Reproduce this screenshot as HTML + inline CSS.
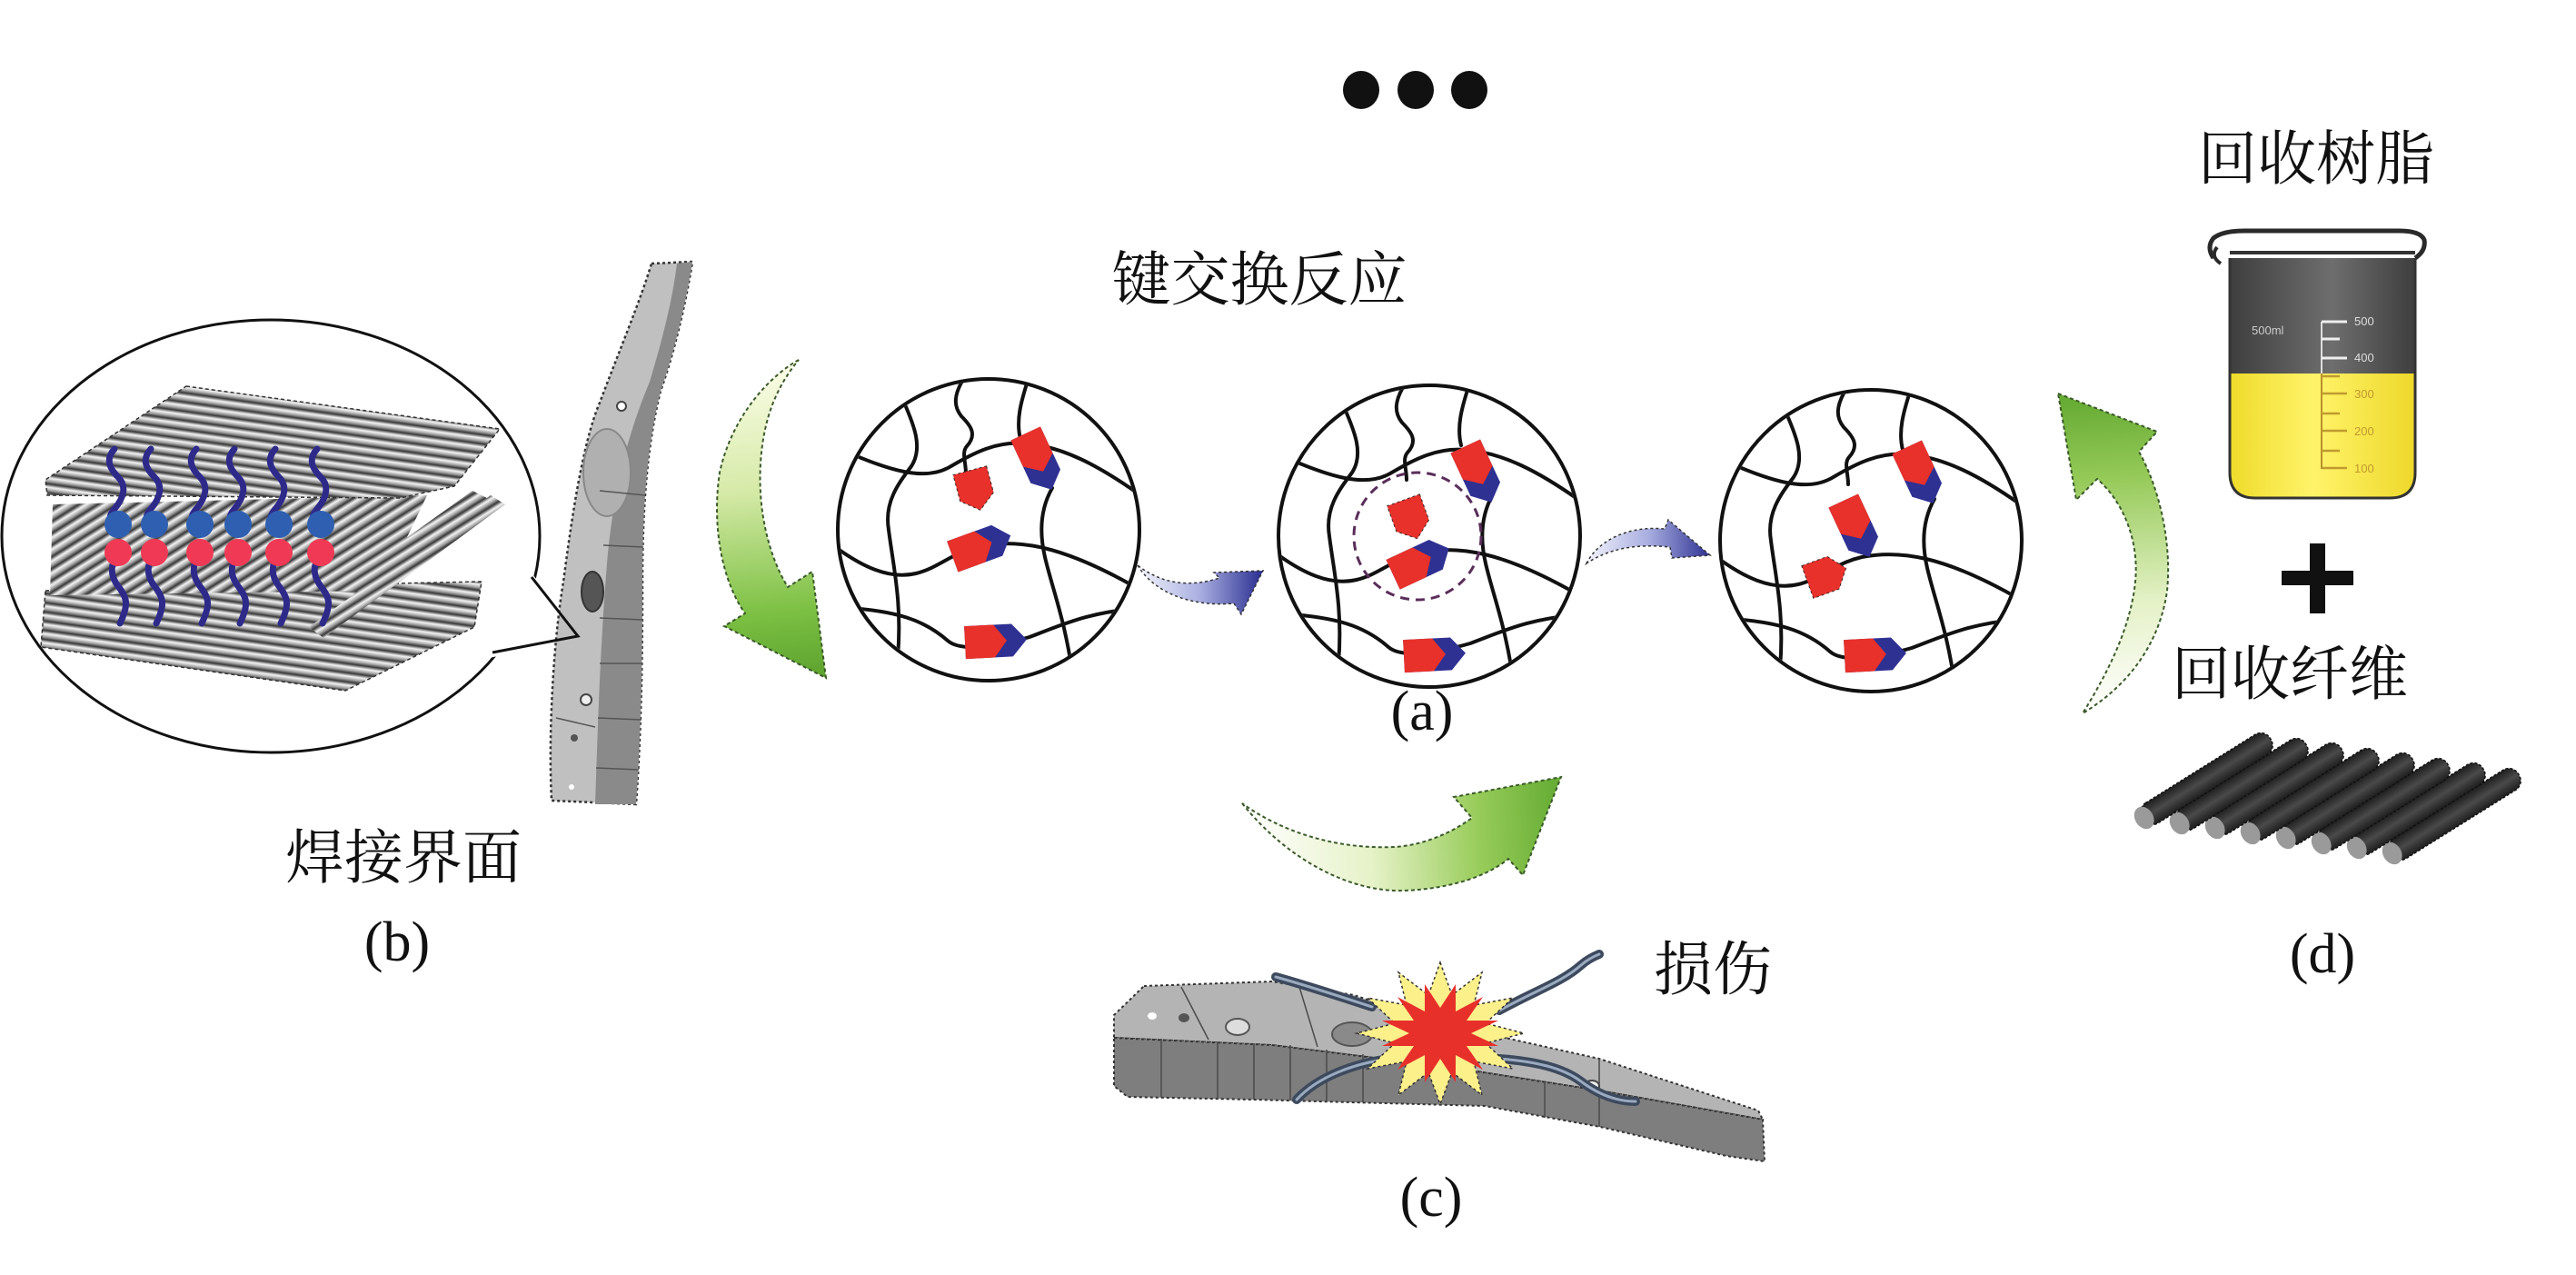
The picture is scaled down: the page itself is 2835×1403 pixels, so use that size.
<!DOCTYPE html>
<html><head><meta charset="utf-8">
<style>
html,body{margin:0;padding:0;background:#fff;}
svg{display:block}
.cjk{font-family:"Liberation Serif","Noto Serif CJK SC","Noto Sans CJK SC",serif;font-size:65px;fill:#111}
.lbl{font-family:"Liberation Serif",serif;font-size:62px;fill:#111}
.sm{font-family:"Liberation Sans",sans-serif;font-size:13px}
</style></head><body>
<svg width="2835" height="1403" viewBox="0 0 2835 1403" xmlns="http://www.w3.org/2000/svg">
<defs>
 <linearGradient id="cyl" x1="0" y1="0" x2="0" y2="1">
  <stop offset="0" stop-color="#3a3a3a"/><stop offset="0.35" stop-color="#f5f5f5"/><stop offset="0.7" stop-color="#a0a0a0"/><stop offset="1" stop-color="#333"/>
 </linearGradient>
 <pattern id="pH" width="40" height="10" patternUnits="userSpaceOnUse" patternTransform="rotate(8)">
  <rect width="40" height="10" fill="url(#cyl)"/>
 </pattern>
 <pattern id="pD" width="40" height="11" patternUnits="userSpaceOnUse" patternTransform="rotate(-32)">
  <rect width="40" height="11" fill="url(#cyl)"/>
 </pattern>
 <linearGradient id="gL" gradientUnits="userSpaceOnUse" x1="850" y1="400" x2="880" y2="740">
  <stop offset="0" stop-color="#fbfde8"/><stop offset="0.4" stop-color="#d6eaa8"/><stop offset="0.8" stop-color="#7cc043"/><stop offset="1" stop-color="#5fa530"/>
 </linearGradient>
 <linearGradient id="gB" gradientUnits="userSpaceOnUse" x1="1370" y1="900" x2="1710" y2="880">
  <stop offset="0" stop-color="#ffffff"/><stop offset="0.4" stop-color="#e6f2c8"/><stop offset="0.75" stop-color="#98cc5a"/><stop offset="1" stop-color="#68ae36"/>
 </linearGradient>
 <linearGradient id="gR" gradientUnits="userSpaceOnUse" x1="2300" y1="785" x2="2280" y2="440">
  <stop offset="0" stop-color="#ffffff"/><stop offset="0.35" stop-color="#e4f1c6"/><stop offset="0.75" stop-color="#94c957"/><stop offset="1" stop-color="#66ab33"/>
 </linearGradient>
 <linearGradient id="b1" gradientUnits="userSpaceOnUse" x1="1254" y1="640" x2="1388" y2="640">
  <stop offset="0" stop-color="#f2f2fb"/><stop offset="0.5" stop-color="#a8aee0"/><stop offset="1" stop-color="#2e3192"/>
 </linearGradient>
 <linearGradient id="b2" gradientUnits="userSpaceOnUse" x1="1746" y1="600" x2="1882" y2="600">
  <stop offset="0" stop-color="#f2f2fb"/><stop offset="0.5" stop-color="#a8aee0"/><stop offset="1" stop-color="#2e3192"/>
 </linearGradient>
 <linearGradient id="bk" x1="0" y1="0" x2="1" y2="0">
  <stop offset="0" stop-color="#3e3e3e"/><stop offset="0.55" stop-color="#6e6e6e"/><stop offset="1" stop-color="#3e3e3e"/>
 </linearGradient>
 <linearGradient id="yl" x1="0" y1="0" x2="1" y2="0">
  <stop offset="0" stop-color="#efdb2a"/><stop offset="0.45" stop-color="#fff36a"/><stop offset="1" stop-color="#eed82a"/>
 </linearGradient>
 <linearGradient id="rod" x1="0" y1="0" x2="0" y2="1">
  <stop offset="0" stop-color="#1e1e1e"/><stop offset="0.5" stop-color="#4a4a4a"/><stop offset="1" stop-color="#1e1e1e"/>
 </linearGradient>
 <clipPath id="cc"><circle cx="0" cy="0" r="164"/></clipPath>
 <g id="net" fill="none" stroke="#111" stroke-width="4" stroke-linecap="round">
  <path d="M-170,-92 C-105,-62 -70,-55 -45,-68 C-20,-82 5,-98 40,-95 C80,-92 120,-72 170,-36"/>
  <path d="M-170,18 C-140,40 -110,55 -80,48 C-55,42 -40,25 -10,18 C30,10 80,15 170,68"/>
  <path d="M-170,85 C-100,88 -70,100 -45,122 C-30,135 10,128 45,118 C80,105 110,90 170,86"/>
  <path d="M-93,-140 C-82,-115 -72,-90 -85,-70 C-100,-50 -115,-30 -110,0 C-105,40 -95,80 -100,140"/>
  <path d="M-25,-170 C-40,-148 -38,-135 -30,-125 C-20,-115 -12,-105 -24,-92 C-30,-85 -25,-75 -25,-62"/>
  <path d="M45,-170 C35,-140 30,-120 35,-100 M70,-46 C58,-25 55,0 62,30 C70,65 85,100 94,170"/>
 </g>
 <g id="rb">
  <path d="M-22,-18 L30,-18 L46,0 L30,18 L-22,18 Z" fill="#2e3192"/>
  <path d="M-22,-18 L10,-18 L24,0 L10,18 L-22,18 Z" fill="#e8312a"/>
 </g>
 <g id="rr"><path d="M-22,-19 L8,-19 L23,0 L8,19 L-22,19 Z" fill="#e8312a" stroke="#3a2a2a" stroke-width="1" stroke-dasharray="3 3"/></g>
</defs>

<rect width="2835" height="1403" fill="#fff"/>

<!-- dots -->
<ellipse cx="1498" cy="99" rx="20" ry="21" fill="#111"/>
<ellipse cx="1558" cy="99" rx="20" ry="21" fill="#111"/>
<ellipse cx="1617" cy="99" rx="20" ry="21" fill="#111"/>

<!-- texts -->
<text class="cjk" x="1386" y="330" text-anchor="middle">键交换反应</text>
<text class="cjk" x="2549" y="197" text-anchor="middle">回收树脂</text>
<text class="cjk" x="444" y="966" text-anchor="middle">焊接界面</text>
<text class="cjk" x="1885" y="1089" text-anchor="middle">损伤</text>
<text class="cjk" x="2520" y="764" text-anchor="middle">回收纤维</text>
<text class="lbl" x="1565" y="803" text-anchor="middle">(a)</text>
<text class="lbl" x="437" y="1057" text-anchor="middle">(b)</text>
<text class="lbl" x="1575" y="1338" text-anchor="middle">(c)</text>
<text class="lbl" x="2556" y="1070" text-anchor="middle">(d)</text>

<!-- (b) ellipse with fiber stack -->
<ellipse cx="298" cy="590" rx="296" ry="238" fill="none" stroke="#111" stroke-width="3"/>
<polygon points="583,628 642,703 538,724 556,660" fill="#fff"/>
<path d="M50,650 L530,640 L522,690 L380,760 L45,712 Z" fill="url(#pH)" stroke="#333" stroke-width="1.5" stroke-dasharray="4 3"/>
<path d="M58,555 L470,545 L420,650 L55,655 Z" fill="url(#pD)"/>
<path d="M340,690 L540,545 L556,555 L356,702 Z" fill="url(#pD)"/>
<path d="M380,640 L520,540 L536,548 L396,652 Z" fill="url(#pD)"/>
<path d="M205,425 L550,472 L500,535 L440,548 L52,545 L50,528 Z" fill="url(#pH)" stroke="#333" stroke-width="1.5" stroke-dasharray="4 3"/>
<g fill="none" stroke="#2e2a8a" stroke-width="7" stroke-linecap="round">
 <path d="M126,494 C116,505 120,515 130,525 S136,548 126,560 S124,572 130,577"/>
 <path d="M166,494 C156,505 160,515 170,525 S176,548 166,560 S164,572 170,577"/>
 <path d="M216,494 C206,505 210,515 220,525 S226,548 216,560 S214,572 220,577"/>
 <path d="M258,494 C248,505 252,515 262,525 S268,548 258,560 S256,572 262,577"/>
 <path d="M303,494 C293,505 297,515 307,525 S313,548 303,560 S301,572 307,577"/>
 <path d="M349,494 C339,505 343,515 353,525 S359,548 349,560 S347,572 353,577"/>
 <path d="M130,608 C122,620 120,632 130,645 S142,665 132,686"/>
 <path d="M170,608 C162,620 160,632 170,645 S182,665 172,686"/>
 <path d="M220,608 C212,620 210,632 220,645 S232,665 222,686"/>
 <path d="M262,608 C254,620 252,632 262,645 S274,665 264,686"/>
 <path d="M307,608 C299,620 297,632 307,645 S319,665 309,686"/>
 <path d="M353,608 C345,620 343,632 353,645 S365,665 355,686"/>
</g>
<g fill="#2f5fb0">
 <circle cx="130" cy="577" r="15"/><circle cx="170" cy="577" r="15"/><circle cx="220" cy="577" r="15"/>
 <circle cx="262" cy="577" r="15"/><circle cx="307" cy="577" r="15"/><circle cx="353" cy="577" r="15"/>
</g>
<g fill="#f03a55">
 <circle cx="130" cy="608" r="15"/><circle cx="170" cy="608" r="15"/><circle cx="220" cy="608" r="15"/>
 <circle cx="262" cy="608" r="15"/><circle cx="307" cy="608" r="15"/><circle cx="353" cy="608" r="15"/>
</g>

<!-- car bar (b) -->
<path d="M717,290 L762,288 C757,320 745,380 727,430 C712,490 707,560 707,640 C707,720 706,800 700,885 L607,881 C603,800 610,700 620,640 C628,580 640,490 660,443 C680,390 705,330 717,290 Z" fill="#c0c0c0" stroke="#333" stroke-width="2.5" stroke-dasharray="3 3"/>
<path d="M745,290 L762,288 C757,320 745,380 727,430 C712,490 707,560 707,640 C707,720 706,800 700,885 L655,885 C658,800 660,720 668,620 C675,540 690,480 715,420 C730,370 740,330 745,290 Z" fill="#8a8a8a"/>
<ellipse cx="668" cy="520" rx="26" ry="48" fill="#b0b0b0" stroke="#888" stroke-width="2"/>
<ellipse cx="652" cy="651" rx="12" ry="22" fill="#555" stroke="#333" stroke-width="2"/>
<circle cx="684" cy="447" r="5" fill="#fff" stroke="#444" stroke-width="2"/>
<circle cx="645" cy="770" r="6" fill="#eee" stroke="#444" stroke-width="2"/>
<circle cx="632" cy="812" r="4" fill="#555"/>
<circle cx="629" cy="866" r="3" fill="#fff"/>
<g stroke="#555" stroke-width="1.5">
 <line x1="660" y1="540" x2="710" y2="545"/><line x1="664" y1="600" x2="708" y2="602"/>
 <line x1="660" y1="680" x2="708" y2="682"/><line x1="660" y1="730" x2="707" y2="730"/>
 <line x1="658" y1="790" x2="706" y2="792"/><line x1="656" y1="845" x2="703" y2="847"/>
 <line x1="612" y1="790" x2="655" y2="800"/>
</g>
<polyline points="585,635 636,700 542,718" fill="none" stroke="#111" stroke-width="3"/>

<!-- left green arrow -->
<path d="M879,396 C845,415 805,460 792,520 C783,580 795,640 820,675 L797,689 L909,746 L894,629 L867,646 C845,610 834,560 837,510 C840,460 855,425 879,396 Z" fill="url(#gL)" stroke="#3b5a2a" stroke-width="2" stroke-dasharray="4 3"/>

<!-- circle 1 -->
<g transform="translate(1088,583)">
 <g clip-path="url(#cc)"><use href="#net"/></g>
 <circle r="166" fill="none" stroke="#111" stroke-width="4"/>
 <use href="#rb" transform="translate(50,-86) rotate(65)"/>
 <use href="#rr" transform="translate(-15,-44) rotate(75)"/>
 <use href="#rb" transform="translate(-19,22) rotate(-20)"/>
 <use href="#rb" transform="translate(-4,123) rotate(-3)"/>
</g>

<!-- blue arrow 1 -->
<path d="M1252,622 C1270,652 1310,668 1358,664 L1366,676 L1390,628 L1336,630 L1342,636 C1305,648 1275,640 1252,622 Z" fill="url(#b1)" stroke="#333" stroke-width="1.5" stroke-dasharray="3 3"/>

<!-- circle 2 -->
<g transform="translate(1573,590)">
 <g clip-path="url(#cc)"><use href="#net"/></g>
 <circle r="166" fill="none" stroke="#111" stroke-width="4"/>
 <circle cx="-13" cy="0" r="70" fill="none" stroke="#5a2d5a" stroke-width="3" stroke-dasharray="10 7"/>
 <use href="#rb" transform="translate(49,-79) rotate(65)"/>
 <use href="#rr" transform="translate(-21,-19) rotate(70)"/>
 <use href="#rb" transform="translate(-20,33) rotate(-25)"/>
 <use href="#rb" transform="translate(-6,131) rotate(-3)"/>
</g>

<!-- blue arrow 2 -->
<path d="M1746,620 C1758,596 1790,578 1832,582 L1836,572 L1882,611 L1840,614 L1838,602 C1800,598 1770,604 1746,620 Z" fill="url(#b2)" stroke="#333" stroke-width="1.5" stroke-dasharray="3 3"/>

<!-- circle 3 -->
<g transform="translate(2059,595)">
 <g clip-path="url(#cc)"><use href="#net"/></g>
 <circle r="166" fill="none" stroke="#111" stroke-width="4"/>
 <use href="#rb" transform="translate(49,-83) rotate(65)"/>
 <use href="#rb" transform="translate(-21,-24) rotate(65)"/>
 <use href="#rr" transform="translate(-49,38) rotate(-20)"/>
 <use href="#rb" transform="translate(-7,126) rotate(-3)"/>
</g>

<!-- bottom green arrow -->
<path d="M1367,884 C1420,950 1490,982 1545,980 C1600,978 1640,962 1660,945 L1676,963 L1718,855 L1600,877 L1620,900 C1595,918 1565,930 1535,932 C1470,935 1410,915 1367,884 Z" fill="url(#gB)" stroke="#3b5a2a" stroke-width="2" stroke-dasharray="4 3"/>

<!-- right green arrow -->
<path d="M2265,433 L2374,475 L2354,497 C2378,540 2390,600 2385,650 C2378,700 2350,750 2292,785 C2320,740 2345,690 2350,640 C2354,600 2340,555 2308,527 L2285,550 Z" fill="url(#gR)" stroke="#3b5a2a" stroke-width="2" stroke-dasharray="4 3"/>

<!-- damaged part (c) -->
<path d="M1259,1085 L1400,1080 L1490,1095 L1580,1125 L1760,1165 L1935,1222 L1940,1232 L1760,1200 L1600,1175 L1400,1150 L1226,1142 L1226,1117 Z" fill="#b4b4b4" stroke="#333" stroke-width="2" stroke-dasharray="3 3"/>
<path d="M1226,1142 L1400,1150 L1600,1175 L1760,1200 L1940,1232 L1942,1278 L1900,1272 L1761,1240 L1634,1217 L1379,1210 L1241,1207 L1226,1195 Z" fill="#7e7e7e" stroke="#333" stroke-width="2" stroke-dasharray="3 3"/>
<g stroke="#4a4a4a" stroke-width="1.5">
 <line x1="1278" y1="1143" x2="1278" y2="1207"/><line x1="1340" y1="1146" x2="1340" y2="1209"/>
 <line x1="1380" y1="1148" x2="1380" y2="1210"/><line x1="1420" y1="1150" x2="1420" y2="1211"/>
 <line x1="1460" y1="1155" x2="1460" y2="1212"/><line x1="1500" y1="1160" x2="1500" y2="1213"/>
 <line x1="1700" y1="1190" x2="1700" y2="1230"/><line x1="1760" y1="1165" x2="1760" y2="1240"/>
 <line x1="1300" y1="1086" x2="1330" y2="1144"/><line x1="1430" y1="1086" x2="1450" y2="1152"/>
</g>
<ellipse cx="1268" cy="1118" rx="5" ry="4" fill="#fff"/>
<ellipse cx="1303" cy="1120" rx="6" ry="5" fill="#555"/>
<ellipse cx="1362" cy="1130" rx="13" ry="9" fill="#ddd" stroke="#555" stroke-width="2"/>
<ellipse cx="1488" cy="1138" rx="22" ry="13" fill="#8a8a8a" stroke="#555" stroke-width="2"/>
<ellipse cx="1752" cy="1195" rx="8" ry="6" fill="#eee" stroke="#444" stroke-width="2"/>
<g fill="none" stroke-linecap="round">
 <g stroke="#3d4a5e" stroke-width="10">
  <path d="M1404,1075 C1440,1085 1470,1095 1510,1108"/>
  <path d="M1650,1112 C1690,1090 1720,1080 1740,1062 C1748,1055 1755,1052 1760,1050"/>
  <path d="M1427,1210 C1450,1185 1490,1170 1530,1165"/>
  <path d="M1650,1165 C1690,1168 1720,1175 1740,1190 C1760,1205 1780,1212 1800,1212"/>
 </g>
 <g stroke="#9aaac0" stroke-width="3">
  <path d="M1404,1075 C1440,1085 1470,1095 1510,1108"/>
  <path d="M1650,1112 C1690,1090 1720,1080 1740,1062 C1748,1055 1755,1052 1760,1050"/>
  <path d="M1427,1210 C1450,1185 1490,1170 1530,1165"/>
  <path d="M1650,1165 C1690,1168 1720,1175 1740,1190 C1760,1205 1780,1212 1800,1212"/>
 </g>
</g>
<polygon points="1585,1059 1598,1095 1631,1070 1622,1106 1665,1098 1635,1126 1677,1137 1635,1148 1665,1176 1622,1168 1631,1205 1598,1180 1585,1215 1572,1180 1539,1205 1548,1168 1505,1176 1535,1148 1493,1137 1535,1126 1505,1098 1548,1106 1539,1070 1572,1095" fill="#fbf08a" stroke="#333" stroke-width="1.5" stroke-dasharray="3 3"/>
<polygon points="1585,1109 1602,1083 1602,1113 1632,1097 1614,1123 1649,1123 1619,1137 1649,1151 1614,1151 1632,1177 1602,1161 1602,1191 1585,1165 1568,1191 1568,1161 1538,1177 1556,1151 1521,1151 1551,1137 1521,1123 1556,1123 1538,1097 1568,1113 1568,1083" fill="#e8302a"/>

<!-- beaker -->
<rect x="2454" y="276" width="204" height="140" fill="url(#bk)"/>
<path d="M2454,411 L2658,411 L2658,520 Q2658,548 2630,548 L2482,548 Q2454,548 2454,520 Z" fill="url(#yl)"/>
<path d="M2454,280 L2454,520 Q2454,548 2482,548 L2630,548 Q2658,548 2658,520 L2658,280" fill="none" stroke="#333" stroke-width="3"/>
<path d="M2436,284 Q2428,272 2436,262 Q2446,254 2470,254 L2640,254 Q2664,254 2668,264 Q2670,276 2658,284" fill="#fff" stroke="#2a2a2a" stroke-width="5"/>
<path d="M2440,272 Q2432,282 2444,290" fill="none" stroke="#2a2a2a" stroke-width="4"/>
<line x1="2454" y1="278" x2="2658" y2="278" stroke="#333" stroke-width="4"/>
<line x1="2555" y1="354" x2="2555" y2="516" stroke="#ddd" stroke-width="2"/>
<line x1="2555" y1="411" x2="2555" y2="516" stroke="#b8902a" stroke-width="2"/>
<g stroke="#eee" stroke-width="3">
 <line x1="2555" y1="354" x2="2583" y2="354"/><line x1="2555" y1="373" x2="2575" y2="373"/><line x1="2555" y1="394" x2="2583" y2="394"/>
</g>
<g stroke="#c09a30" stroke-width="2.5">
 <line x1="2555" y1="414" x2="2575" y2="414"/><line x1="2555" y1="433" x2="2583" y2="433"/><line x1="2555" y1="455" x2="2575" y2="455"/>
 <line x1="2555" y1="474" x2="2583" y2="474"/><line x1="2555" y1="496" x2="2575" y2="496"/><line x1="2555" y1="515" x2="2583" y2="515"/>
</g>
<text class="sm" x="2478" y="368" fill="#ccc" font-size="22">500ml</text>
<text class="sm" x="2591" y="358" fill="#ddd">500</text>
<text class="sm" x="2591" y="398" fill="#ddd">400</text>
<text class="sm" x="2591" y="438" fill="#c09a30">300</text>
<text class="sm" x="2591" y="479" fill="#c09a30">200</text>
<text class="sm" x="2591" y="520" fill="#c09a30">100</text>

<!-- plus -->
<rect x="2511" y="628" width="79" height="16" fill="#111"/>
<rect x="2542" y="598" width="17" height="77" fill="#111"/>

<!-- fibers (d) -->
<g>
 <g transform="translate(2631,940) rotate(-32)"><rect x="0" y="-13" width="166" height="26" rx="12" fill="url(#rod)" stroke="#111" stroke-width="1.5" stroke-dasharray="3 2"/><ellipse cx="2" cy="0" rx="10" ry="13" fill="#9a9a9a"/></g>
 <g transform="translate(2592,934) rotate(-32)"><rect x="0" y="-13" width="166" height="26" rx="12" fill="url(#rod)" stroke="#111" stroke-width="1.5" stroke-dasharray="3 2"/><ellipse cx="2" cy="0" rx="10" ry="13" fill="#9a9a9a"/></g>
 <g transform="translate(2553,929) rotate(-32)"><rect x="0" y="-13" width="166" height="26" rx="12" fill="url(#rod)" stroke="#111" stroke-width="1.5" stroke-dasharray="3 2"/><ellipse cx="2" cy="0" rx="10" ry="13" fill="#9a9a9a"/></g>
 <g transform="translate(2514,923) rotate(-32)"><rect x="0" y="-13" width="166" height="26" rx="12" fill="url(#rod)" stroke="#111" stroke-width="1.5" stroke-dasharray="3 2"/><ellipse cx="2" cy="0" rx="10" ry="13" fill="#9a9a9a"/></g>
 <g transform="translate(2475,918) rotate(-32)"><rect x="0" y="-13" width="166" height="26" rx="12" fill="url(#rod)" stroke="#111" stroke-width="1.5" stroke-dasharray="3 2"/><ellipse cx="2" cy="0" rx="10" ry="13" fill="#9a9a9a"/></g>
 <g transform="translate(2436,912) rotate(-32)"><rect x="0" y="-13" width="166" height="26" rx="12" fill="url(#rod)" stroke="#111" stroke-width="1.5" stroke-dasharray="3 2"/><ellipse cx="2" cy="0" rx="10" ry="13" fill="#9a9a9a"/></g>
 <g transform="translate(2397,907) rotate(-32)"><rect x="0" y="-13" width="166" height="26" rx="12" fill="url(#rod)" stroke="#111" stroke-width="1.5" stroke-dasharray="3 2"/><ellipse cx="2" cy="0" rx="10" ry="13" fill="#9a9a9a"/></g>
 <g transform="translate(2358,901) rotate(-32)"><rect x="0" y="-13" width="166" height="26" rx="12" fill="url(#rod)" stroke="#111" stroke-width="1.5" stroke-dasharray="3 2"/><ellipse cx="2" cy="0" rx="10" ry="13" fill="#9a9a9a"/></g>
</g>
</svg>
</body></html>
